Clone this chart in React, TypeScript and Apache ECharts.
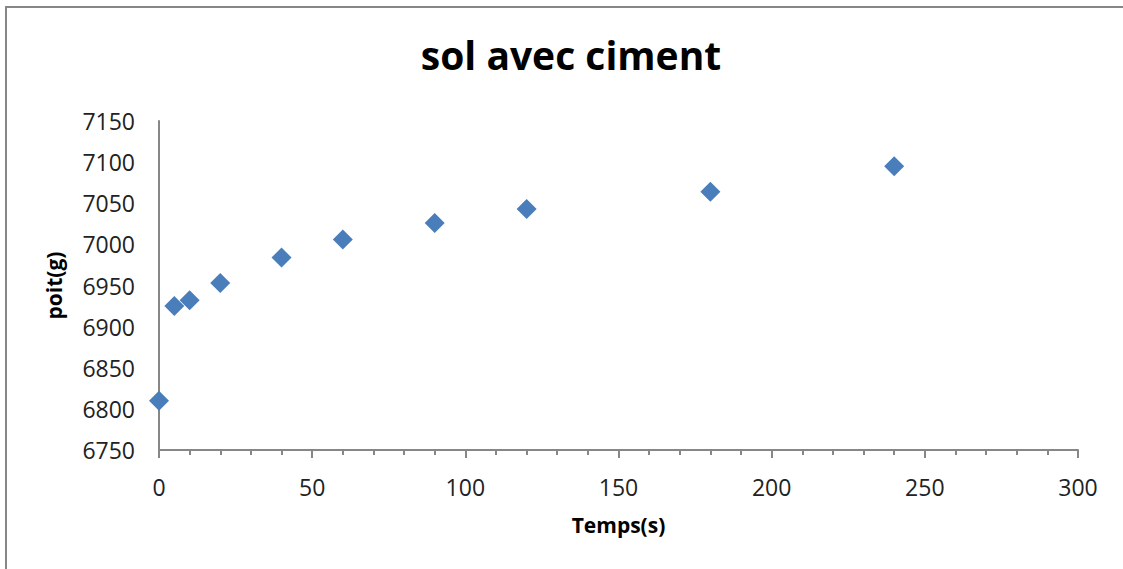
import React, { useEffect, useRef } from "react";
import * as echarts from "echarts";

// Time (s) and measured weight (g)
const temps = [0, 5, 10, 20, 40, 60, 90, 120, 180, 240];
const poids = [6810, 6925, 6932, 6953, 6984, 7006, 7026, 7043, 7064, 7095];

const titleText = "sol avec ciment";
const xName = "Temps(s)";
const yName = "poit(g)";

const FONT = "'Open Sans', 'Noto Sans', sans-serif";
const AXIS_GREY = "#878787";

export default function App() {
  const ref = useRef<HTMLDivElement>(null);

  useEffect(() => {
    document.body.style.margin = "0";
    const chart = echarts.init(ref.current!, undefined, { renderer: "svg" });
    chart.setOption({
      animation: false,
      backgroundColor: "#ffffff",
      textStyle: { fontFamily: FONT },
      title: {
        text: titleText,
        left: 566,
        top: 30,
        textAlign: "center",
        textStyle: { fontFamily: FONT, fontSize: 39, fontWeight: "bold", color: "#000" },
      },
      graphic: [
        {
          // chart frame: only its left and top edges fall inside the view
          type: "polyline",
          shape: { points: [[6, 570], [6, 7], [1123, 7]] },
          style: { fill: "none", stroke: AXIS_GREY, lineWidth: 2 },
          silent: true,
        },
      ],
      grid: { left: 159, right: 45, top: 121, bottom: 119 },
      xAxis: {
        type: "value",
        min: 0,
        max: 300,
        interval: 50,
        name: xName,
        nameLocation: "middle",
        nameGap: 64,
        nameTextStyle: { fontFamily: FONT, fontSize: 21, fontWeight: "bold", color: "#000", verticalAlign: "top" },
        axisLine: { show: true, onZero: false, lineStyle: { color: AXIS_GREY, width: 2 } },
        axisTick: { show: true, length: 8, lineStyle: { color: AXIS_GREY, width: 2 } },
        minorTick: { show: true, splitNumber: 5, length: 5, lineStyle: { color: AXIS_GREY, width: 2 } },
        splitLine: { show: false },
        axisLabel: { margin: 25, fontFamily: FONT, fontSize: 23, color: "#222" },
      },
      yAxis: {
        type: "value",
        min: 6750,
        max: 7150,
        interval: 50,
        name: yName,
        nameLocation: "middle",
        nameGap: 95,
        nameTextStyle: { fontFamily: FONT, fontSize: 21, fontWeight: "bold", color: "#000" },
        axisLine: { show: true, onZero: false, lineStyle: { color: AXIS_GREY, width: 2 } },
        axisTick: { show: false },
        splitLine: { show: false },
        axisLabel: { margin: 24, fontFamily: FONT, fontSize: 23, color: "#222", formatter: (v: number) => String(v) },
      },
      series: [
        {
          type: "scatter",
          data: temps.map((t, i) => [t, poids[i]]),
          symbol: "diamond",
          symbolSize: 20,
          itemStyle: { color: "#4a7ebb", opacity: 1 },
          clip: false,
        },
      ],
    });
    return () => chart.dispose();
  }, []);

  return <div ref={ref} style={{ position: "fixed", left: 0, top: 0, width: 1123, height: 569 }} />;
}
